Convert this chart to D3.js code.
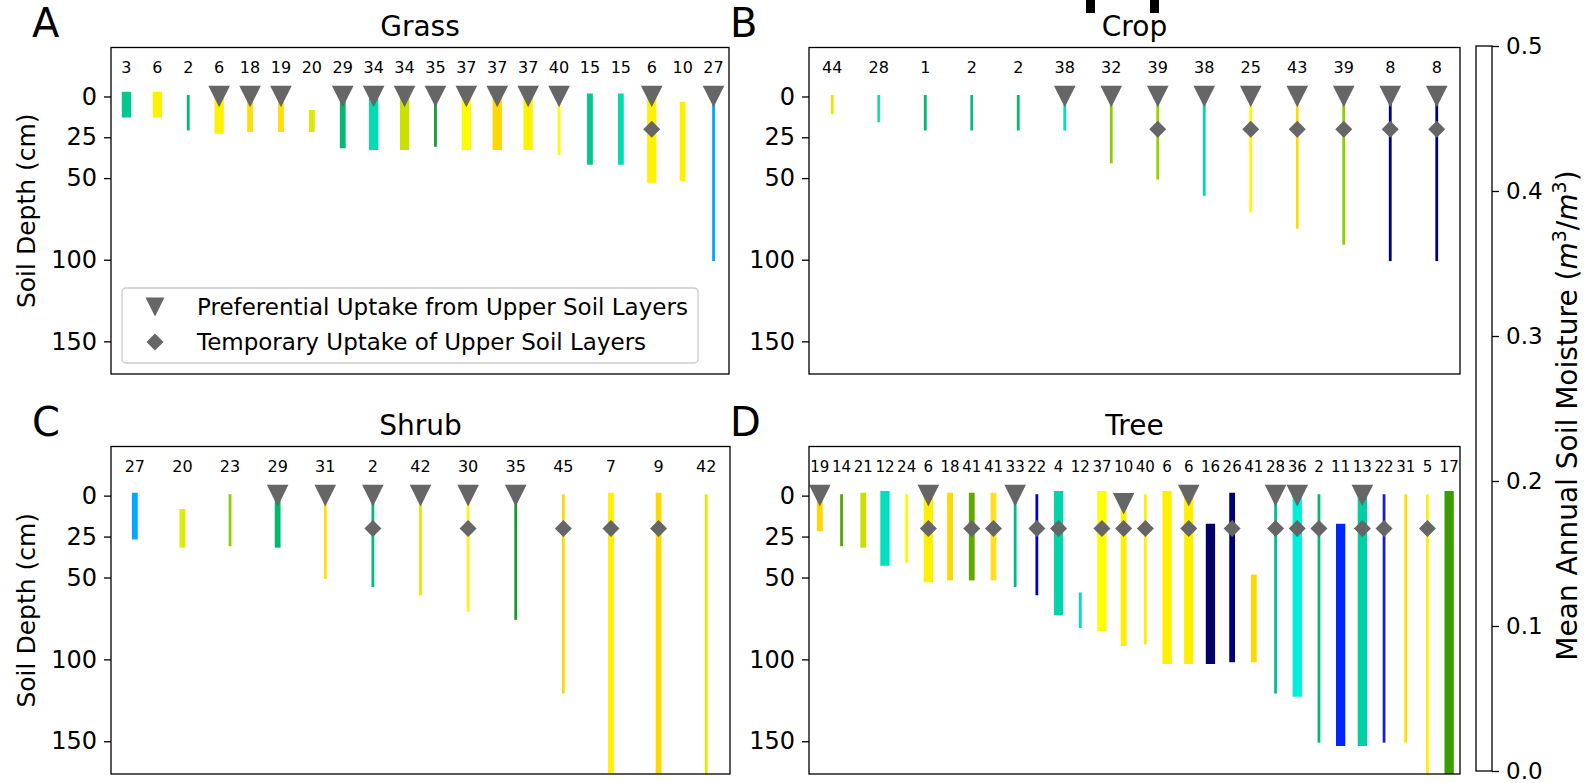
<!DOCTYPE html>
<html>
<head>
<meta charset="utf-8">
<script src="https://cdn.jsdelivr.net/npm/d3@7"></script>
<style>
	body { margin: 0; background: #fff; }
	svg { display: block; }
	text { font-family: "DejaVu Sans", sans-serif; }
</style>
</head>
<body>
<svg id="fig" width="1585" height="783"></svg>
<script>
// ---- data ----
var depthTicks = [0, 25, 50, 100, 150];
var moistureTicks = [0, 0.1, 0.2, 0.3, 0.4, 0.5];
var tempDepth = 20; // depth of the temporary uptake marker

var grassN      = [3, 6, 2, 6, 18, 19, 20, 29, 34, 34, 35, 37, 37, 37, 40, 15, 15, 6, 10, 27];
var grassTop    = [0, 0, 0, 0, 0, 0, 10, 0, 0, 0, 0, 0, 0, 0, 0, 0, 0, 0, 5, 0];
var grassBottom = [10, 10, 20, 20, 20, 20, 20, 30, 30, 30, 30, 30, 30, 30, 35, 40, 40, 50, 50, 100];
var grassPref   = [0, 0, 0, 1, 1, 1, 0, 1, 1, 1, 1, 1, 1, 1, 1, 0, 0, 1, 0, 1];
var grassTemp   = [0, 0, 0, 0, 0, 0, 0, 0, 0, 0, 0, 0, 0, 0, 0, 0, 0, 1, 0, 0];
var grassLw     = [3, 3, 1, 3, 2, 2, 2, 2, 3, 3, 1, 3, 3, 3, 1, 2, 2, 3, 2, 1];
var grassColors = ['#00c98f', '#fff200', '#00b973', '#fff200', '#ffde00', '#ffde00', '#dde800', '#00b86e', '#00dcb4', '#c9e000',
	'#1a9a2e', '#fffc00', '#ffd800', '#fff200', '#fffc00', '#00c98f', '#00dcb0', '#fff200', '#fff000', '#00a8ff'];

var cropN      = [44, 28, 1, 2, 2, 38, 32, 39, 38, 25, 43, 39, 8, 8];
var cropTop    = [0, 0, 0, 0, 0, 0, 0, 0, 0, 0, 0, 0, 0, 0];
var cropBottom = [10, 15, 20, 20, 20, 20, 40, 50, 60, 70, 80, 90, 100, 100];
var cropPref   = [0, 0, 0, 0, 0, 1, 1, 1, 1, 1, 1, 1, 1, 1];
var cropTemp   = [0, 0, 0, 0, 0, 0, 0, 1, 0, 1, 1, 1, 1, 1];
var cropLw     = [1, 1, 1, 1, 1, 1, 1, 1, 1, 1, 1, 1, 1, 1];
var cropColors = ['#dcee00', '#1ed8a8', '#00b970', '#10b77a', '#00b970', '#00e0c0', '#8fcc00', '#9ad000', '#00d8b0', '#fff800',
	'#ffdc00', '#8fcc00', '#000080', '#000080'];

var shrubN      = [27, 20, 23, 29, 31, 2, 42, 30, 35, 45, 7, 9, 42];
var shrubTop    = [0, 10, 0, 0, 0, 0, 0, 0, 0, 0, 0, 0, 0];
var shrubBottom = [25, 30, 30, 30, 50, 55, 60, 70, 75, 120, 200, 200, 200];
var shrubPref   = [0, 0, 0, 1, 1, 1, 1, 1, 1, 0, 0, 0, 0];
var shrubTemp   = [0, 0, 0, 0, 0, 1, 0, 1, 0, 1, 1, 1, 0];
var shrubLw     = [2, 2, 1, 2, 1, 1, 1, 1, 1, 1, 2, 2, 1];
var shrubColors = ['#00a8ff', '#dcee00', '#90cc00', '#00b970', '#ffe000', '#00bb80', '#dcee00', '#fff020', '#159a28', '#ffd800',
	'#fff000', '#ffd800', '#dcee00'];

var treeN      = [19, 14, 21, 12, 24, 6, 18, 41, 41, 33, 22, 4, 12, 37, 10, 40, 6, 6, 16, 26, 41, 28, 36, 2, 11, 13, 22, 31, 5, 17];
var treeTop    = [0, 0, 0, 0, 0, 0, 0, 0, 0, 0, 0, 0, 60, 0, 5, 0, 0, 0, 20, 0, 50, 0, 0, 0, 20, 0, 0, 0, 0, 0];
var treeBottom = [20, 30, 30, 40, 40, 50, 50, 50, 50, 55, 60, 70, 80, 80, 90, 90, 100, 100, 100, 100, 100, 120, 120, 150, 150, 150, 150, 150, 200, 200];
var treePref   = [1, 0, 0, 0, 0, 1, 0, 0, 0, 1, 0, 0, 0, 0, 1, 0, 0, 1, 0, 0, 0, 1, 1, 0, 0, 1, 0, 0, 0, 0];
var treeTemp   = [0, 0, 0, 0, 0, 1, 0, 1, 1, 0, 1, 1, 0, 1, 1, 1, 0, 1, 0, 1, 0, 1, 1, 1, 0, 1, 1, 0, 1, 0];
var treeLw     = [2, 1, 2, 3, 1, 3, 2, 2, 2, 1, 1, 3, 1, 3, 2, 1, 3, 3, 3, 2, 2, 1, 3, 1, 3, 3, 1, 1, 1, 3];
var treeColors = ['#ffd800', '#50a800', '#c8e000', '#00e0c0', '#fff800', '#fff000', '#ffd800', '#60aa00', '#ffe020', '#00bb88',
	'#0000cc', '#00d4a8', '#00dcc0', '#fffc00', '#fff000', '#fff000', '#fff000', '#fff000', '#000068', '#000070',
	'#ffd800', '#00c090', '#00eedc', '#00b878', '#0026ff', '#00d0a4', '#1a1ad8', '#ffe000', '#fff000', '#3c9c00'];

// ---- drawing ----
var svg = d3.select('#fig');
var lineWidth = d3.scaleOrdinal().domain([1, 2, 3]).range([2.8, 5.8, 9.3]);
var triPath = 'M-10.8,-10.8L10.8,-10.8L0,10.8Z';
var diaPath = 'M0,-8.5L8.5,0L0,8.5L-8.5,0Z';
var grey = '#666666';

var panels = [
	{ id: 'A', title: 'Grass', n: grassN, top: grassTop, bottom: grassBottom, pref: grassPref, temp: grassTemp, lw: grassLw, colors: grassColors,
		x0: 111, x1: 729, y0: 47.5, y1: 374, ylabel: true, fs: 16 },
	{ id: 'B', title: 'Crop', n: cropN, top: cropTop, bottom: cropBottom, pref: cropPref, temp: cropTemp, lw: cropLw, colors: cropColors,
		x0: 809, x1: 1460, y0: 47.5, y1: 374, ylabel: false, fs: 16 },
	{ id: 'C', title: 'Shrub', n: shrubN, top: shrubTop, bottom: shrubBottom, pref: shrubPref, temp: shrubTemp, lw: shrubLw, colors: shrubColors,
		x0: 111, x1: 730, y0: 446.5, y1: 774, ylabel: true, fs: 16 },
	{ id: 'D', title: 'Tree', n: treeN, top: treeTop, bottom: treeBottom, pref: treePref, temp: treeTemp, lw: treeLw, colors: treeColors,
		x0: 809, x1: 1460, y0: 446.5, y1: 774, ylabel: false, fs: 15 }
];

panels.forEach(function(p) {
	let idx = d3.range(p.n.length);
	let x = d3.scaleBand().domain(idx).range([p.x0, p.x1]);
	let cx = i => x(i) + x.bandwidth() / 2;
	let y = d3.scaleLinear().domain([-30, 170]).range([p.y0, p.y1]);
	let g = svg.append('g');

	svg.append('clipPath').attr('id', 'clip' + p.id)
		.append('rect').attr('x', p.x0).attr('y', p.y0).attr('width', p.x1 - p.x0).attr('height', p.y1 - p.y0);

	// bars
	let inner = g.append('g').attr('clip-path', 'url(#clip' + p.id + ')');
	inner.selectAll('line').data(idx).join('line')
		.attr('x1', cx).attr('x2', cx)
		.attr('y1', i => y(p.top[i])).attr('y2', i => y(p.bottom[i]))
		.attr('stroke', i => p.colors[i])
		.attr('stroke-width', i => lineWidth(p.lw[i]))
		.attr('stroke-linecap', 'square');

	// markers
	inner.selectAll('path.tri').data(idx.filter(i => p.pref[i])).join('path')
		.attr('class', 'tri').attr('d', triPath).attr('fill', grey)
		.attr('transform', i => 'translate(' + cx(i) + ',' + y(p.top[i]) + ')');
	inner.selectAll('path.dia').data(idx.filter(i => p.temp[i])).join('path')
		.attr('class', 'dia').attr('d', diaPath).attr('fill', grey)
		.attr('transform', i => 'translate(' + cx(i) + ',' + y(tempDepth) + ')');

	// counts
	g.selectAll('text.cnt').data(idx).join('text')
		.attr('class', 'cnt')
		.attr('x', cx).attr('y', y(-14.5))
		.attr('text-anchor', 'middle')
		.style('font-size', p.fs + 'px')
		.text(i => p.n[i]);

	// frame
	g.append('rect')
		.attr('x', p.x0).attr('y', p.y0).attr('width', p.x1 - p.x0).attr('height', p.y1 - p.y0)
		.style('fill', 'none').style('stroke', 'black').style('stroke-width', 1.3);

	// y axis
	let yaxis = g.append('g').attr('transform', 'translate(' + p.x0 + ',0)')
		.call(d3.axisLeft(y).tickValues(depthTicks).tickSize(7).tickPadding(7));
	yaxis.select('.domain').remove();
	yaxis.attr('font-family', null).attr('font-size', null);
	yaxis.selectAll('text').style('font-size', '24px').attr('fill', 'black');
	yaxis.selectAll('line').attr('stroke-width', 1.3);

	if (p.ylabel) {
		g.append('text')
			.attr('transform', 'translate(35,' + ((p.y0 + p.y1) / 2) + ') rotate(-90)')
			.attr('text-anchor', 'middle')
			.style('font-size', '25px')
			.text('Soil Depth (cm)');
	}

	// title and letter
	g.append('text')
		.attr('x', (p.x0 + p.x1) / 2).attr('y', p.y0 - 12)
		.attr('text-anchor', 'middle')
		.style('font-size', '28px')
		.text(p.title);
	g.append('text')
		.attr('x', p.x0 - 79).attr('y', p.y0 - 11)
		.style('font-size', '40px')
		.text(p.id);
});

// legend (panel A)
var legend = svg.append('g');
legend.append('rect')
	.attr('x', 122).attr('y', 288).attr('width', 576).attr('height', 75).attr('rx', 4)
	.style('fill', 'white').style('fill-opacity', 0.8).style('stroke', '#cccccc').style('stroke-width', 1.3);
var legendItems = ['Preferential Uptake from Upper Soil Layers', 'Temporary Uptake of Upper Soil Layers'];
legend.selectAll('path').data(legendItems).join('path')
	.attr('d', (d, i) => i == 0 ? triPath : diaPath)
	.attr('fill', grey)
	.attr('transform', (d, i) => 'translate(155,' + (307 + i * 35) + ') scale(' + (i == 0 ? 0.88 : 1) + ')');
legend.selectAll('text').data(legendItems).join('text')
	.attr('x', 197).attr('y', (d, i) => 307 + i * 35)
	.attr('dy', '0.35em')
	.style('font-size', '23px')
	.text(d => d);

// colorbar
var cbar = svg.append('g');
var cy = d3.scaleLinear().domain([0, 0.5]).range([771, 46]);
cbar.append('rect')
	.attr('x', 1476).attr('y', cy(0.5)).attr('width', 16).attr('height', cy(0) - cy(0.5))
	.style('fill', 'white').style('stroke', 'black').style('stroke-width', 1.3);
var caxis = cbar.append('g').attr('transform', 'translate(1492,0)')
	.call(d3.axisRight(cy).tickValues(moistureTicks).tickFormat(d3.format('.1f')).tickSize(7).tickPadding(7));
caxis.select('.domain').remove();
caxis.attr('font-family', null).attr('font-size', null);
caxis.selectAll('text').style('font-size', '23px').attr('fill', 'black');
caxis.selectAll('line').attr('stroke-width', 1.3);

var clabel = cbar.append('text')
	.attr('transform', 'translate(1577,' + ((cy(0) + cy(0.5)) / 2 + 7) + ') rotate(-90)')
	.attr('text-anchor', 'middle')
	.style('font-size', '28px');
clabel.append('tspan').text('Mean Annual Soil Moisture (');
clabel.append('tspan').style('font-style', 'italic').text('m');
clabel.append('tspan').attr('dy', -11).style('font-size', '19px').text('3');
clabel.append('tspan').attr('dy', 11).text('/');
clabel.append('tspan').style('font-style', 'italic').text('m');
clabel.append('tspan').attr('dy', -11).style('font-size', '19px').text('3');
clabel.append('tspan').attr('dy', 11).text(')');

// stray marks above panel B
svg.selectAll('rect.stray').data([1086, 1150]).join('rect')
	.attr('class', 'stray')
	.attr('x', d => d).attr('y', 0).attr('width', 9).attr('height', 13)
	.style('fill', 'black');
</script>
</body>
</html>
